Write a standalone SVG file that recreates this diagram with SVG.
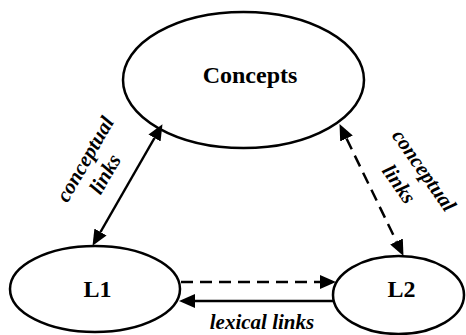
<svg xmlns="http://www.w3.org/2000/svg" width="466" height="335" viewBox="0 0 466 335">
<style>
.node{fill:#fff;stroke:#000;stroke-width:2.5}
.lbl{font-family:"Liberation Serif","Times New Roman",serif;font-weight:bold;fill:#000;text-anchor:middle}
.big{font-size:24px}
.it{font-size:21px;font-style:italic}
.c{fill:none;stroke:#000;stroke-width:2.5}
.d{stroke-dasharray:12 7}
</style>
<defs>
<marker id="ah" markerUnits="userSpaceOnUse" markerWidth="16" markerHeight="14" refX="0" refY="7" orient="auto-start-reverse">
<path d="M0,0 L16,7 L0,14 z" fill="#000"/>
</marker>
</defs>
<rect width="466" height="335" fill="#fff"/>
<g id="concepts">
<ellipse class="node" cx="243.5" cy="80" rx="120.5" ry="68"/>
<text class="lbl big" x="250" y="83">Concepts</text>
</g>
<g id="l1">
<ellipse class="node" cx="95" cy="289" rx="85" ry="43"/>
<text class="lbl big" x="97.5" y="297">L1</text>
</g>
<g id="l2">
<ellipse class="node" cx="398.5" cy="295" rx="65.5" ry="39"/>
<text class="lbl big" x="401.5" y="297">L2</text>
</g>
<g id="connectors">
<line class="c" x1="154.5" y1="138" x2="100.5" y2="232" marker-start="url(#ah)" marker-end="url(#ah)"/>
<line class="c d" x1="346.5" y1="138.5" x2="396.5" y2="241.5" marker-start="url(#ah)" marker-end="url(#ah)"/>
<line class="c d" x1="181" y1="282" x2="320" y2="282" marker-end="url(#ah)"/>
<line class="c" x1="334" y1="301" x2="195" y2="301" marker-end="url(#ah)"/>
</g>
<g id="labels">
<text class="lbl it" transform="translate(91,162.5) rotate(-60)">conceptual</text>
<text class="lbl it" transform="translate(111,177.5) rotate(-60)">links</text>
<text class="lbl it" transform="translate(418.4,174.4) rotate(55)">conceptual</text>
<text class="lbl it" transform="translate(393.4,188) rotate(55)">links</text>
<text class="lbl it" x="262" y="329">lexical links</text>
</g>
</svg>
